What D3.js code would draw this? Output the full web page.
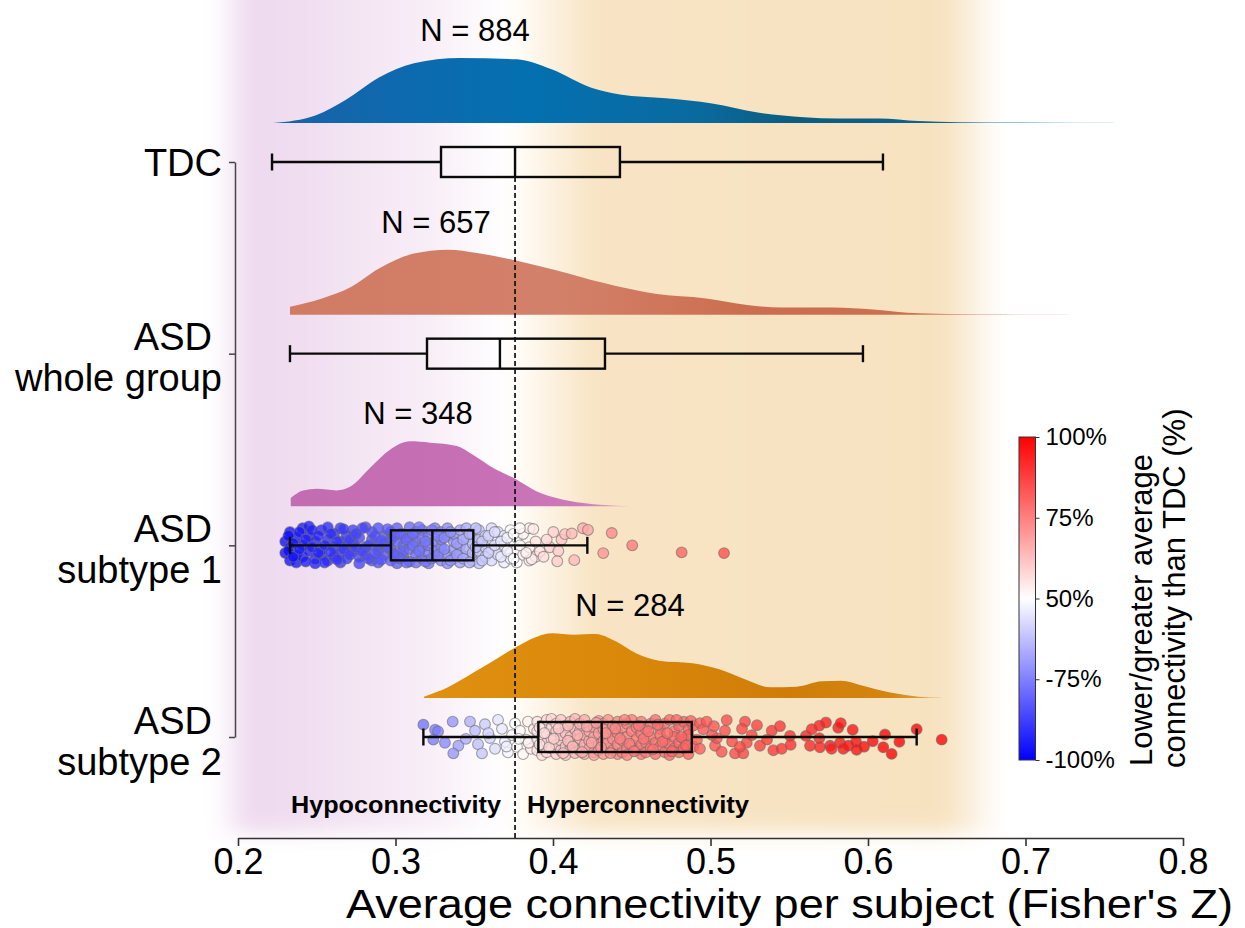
<!DOCTYPE html>
<html><head><meta charset="utf-8">
<script src="https://cdn.jsdelivr.net/npm/d3@7"></script>
<style>body{margin:0;background:#fff}svg{display:block}text{font-family:"Liberation Sans",Arial,sans-serif;fill:#000}</style>
</head><body><svg id="c" width="1245" height="928"></svg>
<script>
// ---------------- data ----------------
const categories = ["TDC", "ASD whole group", "ASD subtype 1", "ASD subtype 2"];
const labelLines = [["TDC"], ["ASD", "whole group"], ["ASD", "subtype 1"], ["ASD", "subtype 2"]];
const nLabels = ["N = 884", "N = 657", "N = 348", "N = 284"];
const nLabelAt = [0.3505, 0.3257, 0.3143, 0.4489];
const whiskerLow = [0.2216, 0.2330, 0.2330, 0.3177];
const q1 = [0.3289, 0.3200, 0.2971, 0.3907];
const median = [0.3759, 0.3663, 0.3234, 0.4309];
const q3 = [0.4425, 0.4330, 0.3494, 0.4881];
const whiskerHigh = [0.6095, 0.5968, 0.4218, 0.6309];
const tdcMedian = 0.3759;
const xTicks = [0.2, 0.3, 0.4, 0.5, 0.6, 0.7, 0.8];
const cbTicks = [0, 0.25, 0.5, 0.75, 1];
const cbTickLabels = ["-100%", "-75%", "50%", "75%", "100%"];

// density outlines [value, relative density]
const densTDC = [[0.2222,0],[0.2495,0.12],[0.268,0.35],[0.2895,0.70],[0.3117,0.92],[0.341,1.0],[0.377,0.98],[0.3987,0.83],[0.4248,0.54],[0.4425,0.44],[0.4717,0.38],[0.501,0.30],[0.530,0.16],[0.5594,0.09],[0.581,0.07],[0.607,0.07],[0.632,0.03],[0.658,0.012],[0.70,0.008],[0.756,0.004]];
const densASD = [[0.233,0.12],[0.2533,0.25],[0.2714,0.42],[0.2895,0.71],[0.3117,0.94],[0.3333,1.0],[0.3517,0.95],[0.3771,0.83],[0.4025,0.68],[0.4317,0.49],[0.4648,0.32],[0.4971,0.25],[0.5232,0.15],[0.5448,0.11],[0.5778,0.11],[0.6032,0.08],[0.6324,0.02],[0.67,0.006],[0.727,0.003]];
const densSub1 = [[0.2335,0.13],[0.2413,0.245],[0.25,0.27],[0.2627,0.245],[0.2711,0.30],[0.2838,0.59],[0.2965,0.87],[0.3092,1.0],[0.3219,0.98],[0.3389,0.93],[0.3494,0.79],[0.3621,0.59],[0.377,0.41],[0.3897,0.23],[0.4023,0.13],[0.4193,0.05],[0.432,0.02],[0.4489,0.003]];
const densSub2 = [[0.3181,0.02],[0.3333,0.165],[0.3498,0.395],[0.364,0.60],[0.3781,0.805],[0.3898,0.943],[0.3994,0.995],[0.4133,0.974],[0.4273,0.985],[0.4392,0.88],[0.4533,0.68],[0.4673,0.574],[0.4886,0.534],[0.5051,0.446],[0.5215,0.292],[0.538,0.165],[0.5545,0.174],[0.5708,0.257],[0.5827,0.266],[0.5968,0.189],[0.6133,0.088],[0.6321,0.02],[0.6462,0.002]];

// jittered subjects [value, jitter(-1..1)]
const sub1Points = [
[0.230,-0.2],[0.230,0.4],[0.233,-0.7],[0.233,0.1],[0.233,0.8],[0.237,-0.4],[0.237,0.5],[0.237,0.9],
[0.241,-0.9],[0.241,0.0],[0.241,0.6],[0.245,-0.5],[0.245,0.3],[0.245,-1.0],[0.249,0.7],[0.249,-0.2],[0.249,0.95],
[0.253,-0.8],[0.253,0.2],[0.253,0.5],[0.257,-0.3],[0.257,0.8],[0.257,-0.95],[0.261,0.1],[0.261,-0.6],[0.261,0.6],
[0.265,-0.9],[0.265,0.4],[0.265,0.9],[0.265,-0.2],[0.269,0.0],[0.269,-0.5],[0.269,0.7],[0.273,-0.8],[0.273,0.3],[0.273,-0.1],
[0.277,0.6],[0.277,-0.4],[0.277,0.95],[0.281,-0.95],[0.281,0.1],[0.281,0.5],[0.285,-0.3],[0.285,0.8],[0.285,-0.7],
[0.289,0.3],[0.289,-0.9],[0.289,0.0],[0.289,0.9],[0.293,-0.5],[0.293,0.5],[0.293,-0.1],[0.297,0.8],[0.297,-0.7],[0.297,0.2],[0.297,-0.3],
[0.301,-0.9],[0.301,0.4],[0.301,0.95],[0.301,-0.2],[0.305,0.0],[0.305,-0.6],[0.305,0.6],[0.305,0.3],
[0.309,-0.4],[0.309,0.85],[0.309,-0.95],[0.309,0.2],[0.313,0.5],[0.313,-0.2],[0.313,-0.7],[0.313,0.9],
[0.317,-0.8],[0.317,0.1],[0.317,0.7],[0.317,-0.4],[0.321,0.4],[0.321,-0.5],[0.321,0.95],[0.321,0.0],
[0.325,-0.9],[0.325,0.6],[0.325,-0.2],[0.325,0.3],[0.329,0.1],[0.329,-0.7],[0.329,0.8],[0.329,-0.3],
[0.333,-0.5],[0.333,0.5],[0.333,0.95],[0.333,-0.9],[0.337,0.2],[0.337,-0.2],[0.337,0.7],[0.337,-0.6],
[0.341,-0.8],[0.341,0.4],[0.341,0.0],[0.341,0.9],[0.345,0.6],[0.345,-0.4],[0.345,-0.9],[0.345,0.2],
[0.349,-0.1],[0.349,0.8],[0.349,-0.6],[0.349,0.4],[0.353,0.3],[0.353,-0.8],[0.353,0.95],[0.353,-0.3],
[0.357,-0.5],[0.357,0.1],[0.357,0.6],[0.361,0.8],[0.361,-0.9],[0.361,0.2],[0.365,-0.3],[0.365,0.5],[0.365,-0.7],
[0.369,0.0],[0.369,0.9],[0.369,-0.5],[0.373,-0.8],[0.373,0.4],[0.373,0.7],[0.377,0.2],[0.377,-0.4],[0.377,0.9],
[0.381,-0.6],[0.381,0.5],[0.385,0.1],[0.385,-0.9],[0.385,0.8],[0.389,-0.2],[0.389,0.6],
[0.3875,-0.86],[0.3865,0.73],[0.3917,0.33],[0.398,0.1],[0.4002,-0.7],[0.4034,0.3],[0.4027,0.84],[0.4054,-0.3],
[0.4076,-0.59],[0.4119,-0.62],[0.4135,0.78],[0.419,-0.9],[0.4222,-0.81],[0.4319,0.41],[0.4373,-0.65],[0.4503,0.0],
[0.4817,0.37],[0.5086,0.41],[0.394,0.6],[0.396,-0.3],
[0.232,0.3],[0.232,-0.5],[0.235,-0.1],[0.235,0.6],[0.239,0.2],[0.239,-0.7],[0.243,0.85],[0.243,-0.3],[0.247,0.1],[0.247,-0.8],
[0.251,-0.5],[0.251,0.4],[0.255,0.0],[0.255,0.9],[0.259,-0.6],[0.259,0.35],[0.263,0.75],[0.263,-0.2],[0.267,0.2],[0.267,-0.85],
[0.271,0.5],[0.271,-0.3],[0.275,-0.6],[0.275,0.1],[0.279,0.3],[0.279,-0.9],[0.283,0.0],[0.283,0.7],[0.287,-0.5],[0.287,0.45],
[0.291,0.75],[0.291,-0.25],[0.295,-0.85],[0.295,0.1],[0.299,0.5],[0.299,-0.5],[0.303,-0.6],[0.303,0.7],[0.307,0.9],[0.307,-0.3],
[0.311,0.0],[0.311,-0.6],[0.315,0.3],[0.315,-0.95],[0.319,-0.2],[0.319,0.85],[0.323,0.7],[0.323,-0.8],[0.327,-0.5],[0.327,0.5],
[0.331,0.2],[0.331,-0.4],[0.335,-0.7],[0.335,0.8],[0.339,0.5],[0.339,-0.1],[0.343,-0.3],[0.343,0.7],[0.347,0.9],[0.347,-0.6],
[0.351,0.1],[0.351,-0.9],[0.355,-0.2],[0.355,0.8],[0.359,0.4],[0.359,-0.5],[0.363,-0.7],[0.363,0.0],[0.367,0.6],[0.367,-0.2],
[0.371,-0.4],[0.371,0.3],[0.375,0.7],[0.375,-0.6],[0.379,0.0],[0.379,-0.9],[0.383,0.4]
];
const sub2Points = [
[0.3177,-0.65],[0.3251,-0.38],[0.327,-0.29],[0.324,0.14],[0.3363,-0.81],[0.3314,0.3],[0.3399,0.46],[0.3367,0.86],
[0.3473,-0.81],[0.3505,-0.33],[0.3524,0.38],[0.3549,0.86],[0.3568,-0.67],[0.360,0.05],[0.3632,0.62],[0.3651,-0.9],
[0.3676,-0.43],[0.3695,0.24],[0.3714,0.81],[0.374,-0.1],[0.3759,-0.71],[0.3771,0.52],[0.379,-0.33],[0.381,0.9],
[0.3829,0.14],[0.3841,-0.81],[0.386,0.62],[0.3879,-0.43],[0.3447,0.1],[0.3589,-0.2],[0.3705,0.5],[0.3782,0.1],[0.3845,0.3],
[0.390,-0.8],[0.390,0.1],[0.390,0.7],[0.390,-0.3],[0.393,0.5],[0.393,-0.6],[0.393,0.95],[0.393,0.0],
[0.396,-0.9],[0.396,0.3],[0.396,-0.2],[0.396,0.8],[0.399,0.6],[0.399,-0.5],[0.399,0.1],[0.399,-0.95],
[0.402,-0.3],[0.402,0.9],[0.402,0.4],[0.402,-0.7],[0.405,0.2],[0.405,-0.9],[0.405,0.7],[0.405,-0.1],
[0.408,-0.6],[0.408,0.5],[0.408,0.95],[0.408,-0.2],[0.411,0.0],[0.411,-0.8],[0.411,0.6],[0.411,0.3],
[0.414,-0.4],[0.414,0.85],[0.414,-0.95],[0.414,0.2],[0.417,0.7],[0.417,-0.3],[0.417,0.1],[0.417,-0.7],
[0.420,-0.9],[0.420,0.4],[0.420,0.9],[0.420,-0.1],[0.423,0.2],[0.423,-0.6],[0.423,0.6],[0.423,-0.3],
[0.426,-0.5],[0.426,0.8],[0.426,0.0],[0.426,0.95],[0.429,0.4],[0.429,-0.85],[0.429,-0.2],[0.429,0.7],
[0.432,-0.7],[0.432,0.2],[0.432,0.9],[0.432,-0.4],[0.435,0.6],[0.435,-0.1],[0.435,-0.9],[0.435,0.3],
[0.438,-0.3],[0.438,0.7],[0.438,0.1],[0.438,-0.6],[0.441,0.9],[0.441,-0.8],[0.441,0.4],[0.441,-0.2],
[0.444,-0.5],[0.444,0.2],[0.444,0.8],[0.447,0.0],[0.447,-0.7],[0.447,0.6],[0.447,0.95],
[0.450,-0.9],[0.450,0.4],[0.450,-0.3],[0.453,0.7],[0.453,-0.5],[0.453,0.1],[0.456,-0.2],[0.456,0.9],[0.456,-0.8],[0.456,0.4],
[0.459,0.3],[0.459,-0.4],[0.459,0.8],[0.462,-0.7],[0.462,0.6],[0.462,0.0],[0.465,0.9],[0.465,-0.9],[0.465,0.3],
[0.468,-0.4],[0.468,0.5],[0.468,-0.1],[0.471,0.2],[0.471,-0.7],[0.471,0.8],[0.474,-0.9],[0.474,0.4],[0.474,0.95],
[0.477,0.6],[0.477,-0.3],[0.477,0.0],[0.480,-0.6],[0.480,0.8],[0.480,0.3],[0.483,0.1],[0.483,-0.8],[0.483,0.6],
[0.486,-0.4],[0.486,0.9],[0.486,-0.1],[0.489,0.5],[0.489,-0.6],
[0.3915,0.4],[0.3915,-0.5],[0.3945,-0.2],[0.3975,0.55],[0.4005,0.1],[0.4035,-0.45],[0.4065,0.85],[0.4095,-0.6],[0.4095,0.2],
[0.4125,0.5],[0.4155,-0.1],[0.4185,0.8],[0.4215,-0.55],[0.4245,0.3],[0.4275,-0.75],[0.4305,0.55],[0.4335,-0.2],[0.4365,0.85],
[0.4395,-0.45],[0.4425,0.1],[0.4455,-0.9],[0.4485,0.35],[0.4515,0.75],[0.4545,-0.6],[0.4575,0.1],[0.4605,-0.3],[0.4635,0.65],
[0.4665,-0.65],[0.4695,0.25],[0.4725,-0.2],[0.4755,0.75],[0.4785,-0.9],[0.4815,0.0],[0.4845,0.45],[0.4875,-0.85],
[0.4933,-0.73],[0.4954,-0.41],[0.4976,-0.81],[0.5029,0.46],[0.504,0.06],[0.5071,0.78],[0.5092,-0.33],[0.5103,-0.89],
[0.5156,0.86],[0.5208,0.86],[0.5219,-0.81],[0.523,0.3],[0.5262,-0.1],[0.5314,0.46],[0.5389,-0.33],[0.5399,0.7],
[0.4914,0.14],[0.4933,0.62],[0.5010,-0.1],[0.5022,-0.57],[0.5137,0.24],[0.5187,0.52],[0.5200,-0.43],[0.5295,-0.62],[0.5359,0.14],
[0.5441,-0.57],[0.5505,-0.06],[0.5452,0.62],[0.5509,0.41],[0.5606,-0.06],[0.5643,-0.41],[0.5691,-0.6],[0.5733,-0.76],
[0.5691,0.06],[0.5632,0.46],[0.5695,0.54],[0.5759,0.46],[0.5769,0.62],[0.5811,-0.49],[0.5827,-0.73],[0.5822,0.3],
[0.5843,0.62],[0.5875,0.46],[0.5903,-0.38],[0.5924,0.25],[0.5928,0.67],[0.5975,0.51],[0.603,0.22],[0.6097,0.54],
[0.6108,-0.13],[0.615,0.89],[0.6199,0.25],[0.6309,-0.41],[0.6468,0.14]
];
const pointsByRow = [null, null, sub1Points, sub2Points];

// ---------------- layout ----------------
const FONT = '"Liberation Sans",Arial,sans-serif';
const svg = d3.select("#c");
const x = d3.scaleLinear().domain([0.2, 0.8]).range([238, 1183]);
const y = d3.scalePoint().domain(categories).range([162, 737]);
const densH = d3.scaleLinear().domain([0, 1]).range([0, 65]);
const densOffset = 39, jitterH = 19, boxH = 30, capH = 17;

const defs = svg.append("defs");

// background glow
const bg = defs.append("linearGradient").attr("id", "bgGrad").attr("gradientUnits", "userSpaceOnUse")
  .attr("x1", 215).attr("x2", 1000).attr("y1", 0).attr("y2", 0);
[[215,"#ffffff"],[250,"#eed9ef"],[320,"#f1e0f1"],[430,"#f8eef7"],[505,"#ffffff"],[525,"#fffaf3"],[592,"#f8e4c4"],[945,"#f7e2c0"],[1000,"#ffffff"]]
  .forEach(([px, c]) => bg.append("stop").attr("offset", (px - 215) / 785).attr("stop-color", c));
const blur = defs.append("filter").attr("id", "soft").attr("filterUnits", "userSpaceOnUse")
  .attr("x", 100).attr("y", -200).attr("width", 1050).attr("height", 1100);
blur.append("feGaussianBlur").attr("stdDeviation", 10);
svg.append("rect").attr("x", 215).attr("y", -60).attr("width", 785).attr("height", 893)
  .attr("fill", "url(#bgGrad)").attr("filter", "url(#soft)");

// density gradients
const densStops = [
  [[0,"#1862ab"],[0.3,"#0470b0"],[0.5,"#0a6aa0"],[0.62,"#0b5d80"],[0.8,"#0c6490"],[0.9,"#2f8cc8"],[1,"#7cc4f0"]],
  [[0,"#d17b64"],[0.35,"#d3806a"],[0.6,"#cb6d4e"],[0.8,"#cc7050"],[0.9,"#e09482"],[1,"#f2b8a8"]],
  [[0,"#c26cb2"],[0.6,"#c770b6"],[0.85,"#cc7aba"],[1,"#e0a0d0"]],
  [[0,"#e0900f"],[0.4,"#d9880a"],[0.7,"#cf7d08"],[0.9,"#d38510"],[1,"#eaa850"]]
];
const densData = [densTDC, densASD, densSub1, densSub2];
densData.forEach((d, i) => {
  const g = defs.append("linearGradient").attr("id", "dg" + i).attr("gradientUnits", "userSpaceOnUse")
    .attr("x1", x(d[0][0])).attr("x2", x(d[d.length - 1][0])).attr("y1", 0).attr("y2", 0);
  densStops[i].forEach(([o, c]) => g.append("stop").attr("offset", o).attr("stop-color", c));
});

densData.forEach((d, i) => {
  const base = y(categories[i]) - densOffset;
  const area = d3.area().curve(d3.curveMonotoneX)
    .x(p => x(p[0])).y0(base).y1(p => base - densH(p[1]));
  svg.append("path").attr("d", area(d)).attr("fill", `url(#dg${i})`);
});

// N labels
nLabels.forEach((t, i) => {
  svg.append("text").attr("x", x(nLabelAt[i])).attr("y", y(categories[i]) - densOffset - 82)
    .attr("text-anchor", "middle").attr("font-size", 31).text(t);
});

// colour of each subject: percentile relative to TDC
const pct = d3.scaleLinear().domain([whiskerLow[0], q1[0], median[0], q3[0], whiskerHigh[0]])
  .range([0, 0.25, 0.5, 0.75, 1]).clamp(true);
const bwr = d3.scaleLinear().domain([0, 0.5, 1]).range(["#0000ff", "#ffffff", "#ff0000"]);

pointsByRow.forEach((pts, i) => {
  if (!pts) return;
  const cy = y(categories[i]);
  svg.append("g").selectAll("circle").data(pts).join("circle")
    .attr("cx", p => x(p[0])).attr("cy", p => cy + p[1] * jitterH).attr("r", 5.4)
    .attr("fill", p => bwr(pct(p[0]))).attr("fill-opacity", 0.78)
    .attr("stroke", "#6a6a6a").attr("stroke-opacity", 0.6).attr("stroke-width", 1.1);
});

// box plots
categories.forEach((c, i) => {
  const cy = y(c);
  const g = svg.append("g").attr("stroke", "#0a0a0a").attr("stroke-width", 2.4).attr("fill", "none");
  g.append("line").attr("x1", x(whiskerLow[i])).attr("x2", x(q1[i])).attr("y1", cy).attr("y2", cy);
  g.append("line").attr("x1", x(q3[i])).attr("x2", x(whiskerHigh[i])).attr("y1", cy).attr("y2", cy);
  g.append("line").attr("x1", x(whiskerLow[i])).attr("x2", x(whiskerLow[i])).attr("y1", cy - capH / 2).attr("y2", cy + capH / 2);
  g.append("line").attr("x1", x(whiskerHigh[i])).attr("x2", x(whiskerHigh[i])).attr("y1", cy - capH / 2).attr("y2", cy + capH / 2);
  g.append("rect").attr("x", x(q1[i])).attr("y", cy - boxH / 2).attr("width", x(q3[i]) - x(q1[i])).attr("height", boxH);
  g.append("line").attr("x1", x(median[i])).attr("x2", x(median[i])).attr("y1", cy - boxH / 2).attr("y2", cy + boxH / 2);
});

// TDC median reference line
svg.append("line").attr("x1", x(tdcMedian)).attr("x2", x(tdcMedian))
  .attr("y1", y(categories[0]) + boxH / 2).attr("y2", 838)
  .attr("stroke", "#111").attr("stroke-width", 1.7).attr("stroke-dasharray", "5,3");

// hypo / hyper labels
svg.append("text").attr("x", x(tdcMedian) - 14).attr("y", 813).attr("text-anchor", "end")
  .attr("font-size", 23).attr("font-weight", "bold")
  .attr("textLength", 210).attr("lengthAdjust", "spacingAndGlyphs").text("Hypoconnectivity");
svg.append("text").attr("x", x(tdcMedian) + 12).attr("y", 813).attr("text-anchor", "start")
  .attr("font-size", 23).attr("font-weight", "bold")
  .attr("textLength", 222).attr("lengthAdjust", "spacingAndGlyphs").text("Hyperconnectivity");

// x axis
const xAxis = svg.append("g").attr("transform", "translate(0,838)")
  .call(d3.axisBottom(x).tickValues(xTicks).tickFormat(d3.format(".1f")).tickSize(8).tickSizeOuter(0).tickPadding(2));
xAxis.select(".domain").attr("stroke", "#333").attr("stroke-width", 1.6);
xAxis.selectAll(".tick line").attr("stroke", "#333").attr("stroke-width", 1.6);
xAxis.selectAll(".tick text").attr("font-size", 36).attr("font-family", FONT).attr("fill", "#000");
svg.append("text").attr("x", 346).attr("y", 918).attr("font-size", 40)
  .attr("textLength", 887).attr("lengthAdjust", "spacingAndGlyphs")
  .text("Average connectivity per subject (Fisher's Z)");

// category axis
const yAxis = svg.append("g").attr("transform", "translate(235,0)")
  .call(d3.axisLeft(y).tickSize(6).tickSizeOuter(0).tickFormat(""));
yAxis.select(".domain").attr("stroke", "#444").attr("stroke-width", 1.5);
yAxis.selectAll(".tick line").attr("stroke", "#444").attr("stroke-width", 1.5);
labelLines.forEach((lines, i) => {
  const cy = y(categories[i]);
  if (lines.length === 1) {
    svg.append("text").attr("x", 222).attr("y", cy + 13.5).attr("text-anchor", "end").attr("font-size", 38).text(lines[0]);
  } else {
    svg.append("text").attr("x", 212).attr("y", cy - 3.5).attr("text-anchor", "end").attr("font-size", 38).text(lines[0]);
    svg.append("text").attr("x", 222).attr("y", cy + 37.5).attr("text-anchor", "end").attr("font-size", 38).text(lines[1]);
  }
});

// colour bar
const cbY = d3.scaleLinear().domain([0, 1]).range([760, 437]);
const cbg = defs.append("linearGradient").attr("id", "cbGrad").attr("x1", 0).attr("x2", 0).attr("y1", 1).attr("y2", 0);
[0, 0.5, 1].forEach(o => cbg.append("stop").attr("offset", o).attr("stop-color", bwr(o)));
svg.append("rect").attr("x", 1019).attr("y", cbY(1)).attr("width", 16.5).attr("height", cbY(0) - cbY(1))
  .attr("fill", "url(#cbGrad)").attr("stroke", "#333").attr("stroke-width", 1);
const cbAxis = svg.append("g").attr("transform", "translate(1035.5,0)")
  .call(d3.axisRight(cbY).tickValues(cbTicks).tickFormat((d, i) => cbTickLabels[i]).tickSize(4).tickSizeOuter(0).tickPadding(6));
cbAxis.select(".domain").remove();
cbAxis.selectAll(".tick line").attr("stroke", "#333");
cbAxis.selectAll(".tick text").attr("font-size", 24).attr("font-family", FONT).attr("fill", "#000");
svg.append("text").attr("transform", "translate(1152,766) rotate(-90)").attr("font-size", 31).text("Lower/greater average");
svg.append("text").attr("transform", "translate(1185,768) rotate(-90)").attr("font-size", 31).text("connectivity than TDC (%)");
</script></body></html>
